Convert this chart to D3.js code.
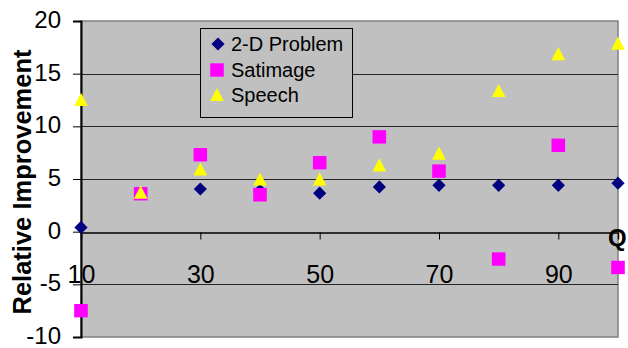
<!DOCTYPE html>
<html>
<head>
<meta charset="utf-8">
<script src="https://cdn.jsdelivr.net/npm/d3@7"></script>
<style>
  html, body { margin: 0; padding: 0; background: #fff; }
  svg { display: block; font-family: Arial, "Liberation Sans", sans-serif; }
</style>
</head>
<body>
<svg id="chart" width="628" height="348"></svg>
<script>
// Sample sizes on the x axis
const qValues = [10, 20, 30, 40, 50, 60, 70, 80, 90, 100];
// Relative improvement per data set
const problem2D = [0.4, 3.6, 4.05, 3.9, 3.65, 4.25, 4.4, 4.4, 4.4, 4.6];
const satimage  = [-7.5, 3.6, 7.3, 3.5, 6.55, 9.0, 5.75, -2.6, 8.2, -3.4];
const speech    = [12.55, 3.75, 5.95, 5.0, 5.0, 6.35, 7.45, 13.4, 16.9, 17.9];
const seriesNames = ["2-D Problem", "Satimage", "Speech"];
const xTickValues = [10, 30, 50, 70, 90];
const yTickValues = [-10, -5, 0, 5, 10, 15, 20];

const svg = d3.select("#chart");
const plotLeft = 81, plotRight = 618, plotTop = 21, plotBottom = 337;

const x = d3.scaleLinear().domain([10, 100]).range([plotLeft, plotRight]);
const y = d3.scaleLinear().domain([-10, 20]).range([plotBottom, plotTop]);

// Plot area
svg.append("rect")
  .attr("x", plotLeft).attr("y", plotTop)
  .attr("width", plotRight - plotLeft).attr("height", plotBottom - plotTop)
  .attr("fill", "#c0c0c0")
  .attr("stroke", "#808080").attr("stroke-width", 1.5);

// Horizontal gridlines
svg.append("g").selectAll("line")
  .data(yTickValues.filter(v => v !== 0 && v !== -10 && v !== 20))
  .join("line")
  .attr("x1", plotLeft).attr("x2", plotRight)
  .attr("y1", d => Math.round(y(d)) + 0.5).attr("y2", d => Math.round(y(d)) + 0.5)
  .attr("stroke", "#262626").attr("stroke-width", 1);

// Y axis (plain hyphen for negative numbers)
const yAxis = d3.axisLeft(y).tickValues(yTickValues).tickSize(8).tickPadding(12)
  .tickFormat(d => String(d));
const gy = svg.append("g").attr("transform", `translate(${plotLeft},0)`).call(yAxis);
gy.select(".domain").attr("stroke", "#000").attr("stroke-width", 2);
gy.selectAll(".tick line").attr("stroke", "#000");
gy.selectAll(".tick text")
  .attr("font-size", "24px").attr("fill", "#000").attr("dy", "0.27em")
  .attr("font-family", "Arial, 'Liberation Sans', sans-serif");

// X axis crossing at zero
const xAxis = d3.axisBottom(x).tickValues(xTickValues).tickSize(7).tickPadding(26)
  .tickFormat(d => String(d));
const gx = svg.append("g").attr("transform", `translate(0,${Math.round(y(0)) + 0.5})`).call(xAxis);
gx.select(".domain").attr("stroke", "#000").attr("stroke-width", 1.5);
gx.selectAll(".tick line").attr("stroke", "#000");
gx.selectAll(".tick text")
  .attr("font-size", "25px").attr("fill", "#000")
  .attr("font-family", "Arial, 'Liberation Sans', sans-serif");

// Marker shapes, centred on the data point
const s = 6.6;
const diamond = (cx, cy) => `M${cx},${cy - s}L${cx + s},${cy}L${cx},${cy + s}L${cx - s},${cy}Z`;
const square = (cx, cy) => `M${cx - 6.8},${cy - 6.7}h13.6v13.4h-13.6Z`;
const triangle = (cx, cy) => `M${cx},${cy - 6.6}L${cx + 6.8},${cy + 6.6}L${cx - 6.8},${cy + 6.6}Z`;

const series = [
  { values: problem2D, shape: diamond, color: "#000080" },
  { values: satimage, shape: square, color: "#ff00ff" },
  { values: speech, shape: triangle, color: "#ffff00" }
];

series.forEach(sr => {
  svg.append("g").selectAll("path")
    .data(qValues.map((q, i) => [q, sr.values[i]]))
    .join("path")
    .attr("d", d => sr.shape(x(d[0]), y(d[1])))
    .attr("fill", sr.color);
});

// Legend
const legend = svg.append("g");
legend.append("rect")
  .attr("x", 200.5).attr("y", 28.5).attr("width", 152).attr("height", 89)
  .attr("fill", "#c0c0c0").attr("stroke", "#000").attr("stroke-width", 1);
const legendRows = [44, 70, 94.5];
series.forEach((sr, i) => {
  legend.append("path")
    .attr("d", sr.shape(i === 0 ? 218 : 217, legendRows[i]))
    .attr("fill", sr.color);
  legend.append("text")
    .attr("x", 231).attr("y", legendRows[i] + 7)
    .attr("font-size", "20px").attr("fill", "#000")
    .text(seriesNames[i]);
});

// Axis titles
svg.append("text")
  .attr("transform", `translate(31,${(plotTop + plotBottom) / 2 + 3}) rotate(-90)`)
  .attr("text-anchor", "middle")
  .attr("font-size", "25.5px").attr("font-weight", "bold").attr("fill", "#000")
  .text("Relative Improvement");

svg.append("text")
  .attr("x", 608).attr("y", 246)
  .attr("font-size", "24px").attr("font-weight", "bold").attr("fill", "#000")
  .text("Q");
</script>
</body>
</html>
